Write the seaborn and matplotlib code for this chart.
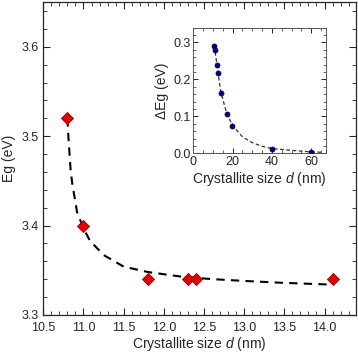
import numpy as np
import pandas as pd
import matplotlib
matplotlib.use('Agg')
import matplotlib.pyplot as plt
import seaborn as sns
from matplotlib.ticker import MultipleLocator

sns.set_style('ticks')
plt.rcParams['font.family'] = ['Liberation Sans', 'DejaVu Sans']
plt.rcParams['mathtext.fontset'] = 'custom'
plt.rcParams['mathtext.rm'] = 'Liberation Sans'
plt.rcParams['mathtext.it'] = 'Liberation Sans:italic'

# main panel: measured band gap vs crystallite size
d_main = [10.8, 11.0, 11.8, 12.3, 12.4, 14.1]
eg_main = [3.52, 3.40, 3.34, 3.34, 3.34, 3.34]
# dashed fit curve
d_fit = [10.80, 10.81, 10.84, 10.86, 10.92, 11.00, 11.08, 11.25, 11.50, 11.80, 12.20, 12.60, 13.00, 13.45, 14.05]
eg_fit = [3.520, 3.502, 3.462, 3.447, 3.415, 3.397, 3.383, 3.367, 3.354, 3.348, 3.343, 3.340, 3.338, 3.336, 3.334]

# inset: band gap shift vs crystallite size
d_ins = [10.7, 11.1, 11.9, 12.6, 14.0, 17.0, 19.9, 40.2, 60.0]
deg_ins = [0.291, 0.279, 0.239, 0.218, 0.163, 0.107, 0.075, 0.011, 0.003]
d_ins_fit = [10.7, 12.0, 14.0, 17.0, 20.0, 25.0, 30.0, 35.0, 40.0, 50.0, 60.0, 65.0]
deg_ins_fit = [0.291, 0.240, 0.165, 0.108, 0.075, 0.045, 0.029, 0.019, 0.013, 0.008, 0.004, 0.003]

fig = plt.figure(figsize=(3.58, 3.55), dpi=100)
ax = fig.add_axes([0.121, 0.113, 0.873, 0.881])

sns.lineplot(x=d_fit, y=eg_fit, ax=ax, color='black', lw=1.5, sort=False,
             linestyle=(0, (4, 3)))
sns.scatterplot(x=d_main, y=eg_main, ax=ax, marker='D', s=38, color='#e00000',
                edgecolor='#a00000', linewidth=0.6, zorder=3)

ax.set_xlim(10.5, 14.39)
ax.set_ylim(3.3, 3.65)
ax.xaxis.set_major_locator(MultipleLocator(0.5))
ax.xaxis.set_minor_locator(MultipleLocator(0.1))
ax.yaxis.set_major_locator(MultipleLocator(0.1))
ax.yaxis.set_minor_locator(MultipleLocator(0.02))
ax.tick_params(which='both', direction='in', top=True, right=True, labelsize=9)
ax.tick_params(which='major', length=5, width=0.8)
ax.tick_params(axis='x', which='major', pad=5)
ax.tick_params(axis='y', which='major', pad=3)
ax.tick_params(which='minor', length=3, width=0.6)
ax.set_xlabel('Crystallite size $d$ (nm)', fontsize=10, labelpad=1)
ax.set_ylabel('Eg (eV)', fontsize=10, labelpad=4)
for s in ax.spines.values():
    s.set_linewidth(0.9)

ins = fig.add_axes([0.540, 0.568, 0.371, 0.354])
sns.lineplot(x=d_ins_fit, y=deg_ins_fit, ax=ins, color='#333333', lw=0.9, sort=False,
             linestyle=(0, (3, 2)))
ins.errorbar(d_ins, deg_ins, yerr=0.006, fmt='none', ecolor='#000066', elinewidth=0.8)
sns.scatterplot(x=d_ins, y=deg_ins, ax=ins, marker='o', s=14, color='#000080',
                edgecolor='#000060', linewidth=0.4, zorder=3)
ins.set_xlim(0, 67.6)
ins.set_ylim(0, 0.34)
ins.xaxis.set_major_locator(MultipleLocator(20))
ins.xaxis.set_minor_locator(MultipleLocator(5))
ins.yaxis.set_major_locator(MultipleLocator(0.1))
ins.yaxis.set_minor_locator(MultipleLocator(0.02))
ins.tick_params(which='both', direction='in', top=True, right=True, labelsize=9, pad=2)
ins.tick_params(which='major', length=3.5, width=0.7)
ins.tick_params(which='minor', length=2, width=0.5)
ins.set_xlabel('Crystallite size $d$ (nm)', fontsize=10, labelpad=1)
ins.set_ylabel('ΔEg (eV)', fontsize=10, labelpad=3)
for s in ins.spines.values():
    s.set_linewidth(0.7)
    s.set_color('#555555')

fig.savefig('out.png', dpi=100)
